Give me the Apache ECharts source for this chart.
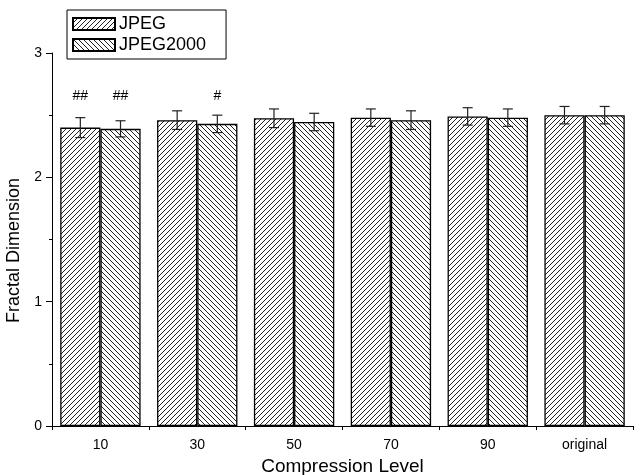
<!DOCTYPE html>
<html><head><meta charset="utf-8">
<script src="https://cdn.jsdelivr.net/npm/echarts@6/dist/echarts.min.js"></script>
<style>html,body{margin:0;padding:0;background:#fff}#c{width:641px;height:475px}</style>
</head><body><div id="c"></div>
<script>
const categories = ['10', '30', '50', '70', '90', 'original'];
const jpegValues = [2.40, 2.46, 2.475, 2.48, 2.49, 2.50];
const jpegErrors = [0.08, 0.075, 0.075, 0.07, 0.07, 0.07];
const jp2Values = [2.39, 2.43, 2.445, 2.46, 2.48, 2.50];
const jp2Errors = [0.065, 0.07, 0.07, 0.075, 0.07, 0.07];
const jpegMarks = ['##', '', '', '', '', ''];
const jp2Marks = ['##', '#', '', '', '', ''];
const yTicks = [0, 1, 2, 3];

function hatch(dir) {
  const s = 5;
  const c = document.createElement('canvas');
  c.width = s; c.height = s;
  const g = c.getContext('2d');
  g.fillStyle = '#fff'; g.fillRect(0, 0, s, s);
  g.strokeStyle = '#222'; g.lineWidth = 1.0;
  g.beginPath();
  if (dir > 0) {
    g.moveTo(-1, s + 1); g.lineTo(s + 1, -1);
    g.moveTo(-1, 1); g.lineTo(1, -1);
    g.moveTo(s - 1, s + 1); g.lineTo(s + 1, s - 1);
  } else {
    g.moveTo(-1, -1); g.lineTo(s + 1, s + 1);
    g.moveTo(s - 1, -1); g.lineTo(s + 1, 1);
    g.moveTo(-1, s - 1); g.lineTo(1, s + 1);
  }
  g.stroke();
  return c;
}
const patA = { image: hatch(1), repeat: 'repeat' };
const patB = { image: hatch(-1), repeat: 'repeat' };

const chart = echarts.init(document.getElementById('c'));
const font = 'Liberation Sans, Arial, sans-serif';

function errSeries(values, errs, marks, offset) {
  return {
    type: 'custom',
    xAxisIndex: 0,
    z: 10,
    data: values.map((v, i) => [i, v, errs[i]]),
    renderItem: function (params, api) {
      const i = api.value(0);
      const v = api.value(1);
      const e = api.value(2);
      const mark = marks[params.dataIndex];
      const size = api.size([1, 0]);
      const bw = size[0] * 0.83 / 2;
      const c = api.coord([i, v]);
      const x = c[0] + offset * bw / 2;
      const top = api.coord([i, v + e])[1];
      const bot = api.coord([i, v - e])[1];
      const cap = 5;
      const st = { stroke: '#222', lineWidth: 1.2 };
      const children = [
        { type: 'line', shape: { x1: x, y1: top, x2: x, y2: bot }, style: st },
        { type: 'line', shape: { x1: x - cap, y1: top, x2: x + cap, y2: top }, style: st },
        { type: 'line', shape: { x1: x - cap, y1: bot, x2: x + cap, y2: bot }, style: st }
      ];
      if (mark) {
        children.push({ type: 'text', style: { text: mark, x: x, y: api.coord([i, 2.6])[1], textAlign: 'center', textVerticalAlign: 'bottom', font: '14px ' + font, fill: '#000' } });
      }
      return { type: 'group', children: children };
    }
  };
}

chart.setOption({
  animation: false,
  backgroundColor: '#fff',
  grid: { left: 52, right: 8, top: 53, bottom: 49, outerBoundsMode: 'none', containLabel: false },
  legend: {
    left: 67, top: 10,
    orient: 'vertical',
    icon: 'rect',
    itemWidth: 42, itemHeight: 12, itemGap: 3,
    padding: [5, 20, 5, 5],
    borderColor: '#000', borderWidth: 1,
    textStyle: { fontFamily: font, fontSize: 18, color: '#000', padding: [0, 0, 0, -1] },
    data: ['JPEG', 'JPEG2000']
  },
  xAxis: [{
    type: 'category', data: categories,
    axisLine: { lineStyle: { color: '#000', width: 1 } },
    axisTick: { alignWithLabel: true, length: 6, lineStyle: { color: '#000' } },
    axisLabel: { fontFamily: font, fontSize: 14, color: '#000', margin: 12 },
    name: 'Compression Level', nameLocation: 'middle', nameGap: 30,
    nameTextStyle: { fontFamily: font, fontSize: 19, color: '#000' }
  }, {
    type: 'category', data: categories, position: 'bottom',
    axisLine: { show: false },
    axisTick: { show: true, length: 4, lineStyle: { color: '#000' } },
    axisLabel: { show: false }
  }],
  yAxis: {
    type: 'value', min: yTicks[0], max: yTicks[yTicks.length - 1], interval: 1,
    axisLine: { show: true, lineStyle: { color: '#000', width: 1 } },
    axisTick: { show: true, length: 6, lineStyle: { color: '#000' } },
    minorTick: { show: true, splitNumber: 2, length: 3, lineStyle: { color: '#000' } },
    splitLine: { show: false },
    axisLabel: { fontFamily: font, fontSize: 14, color: '#000', margin: 10 },
    name: 'Fractal Dimension', nameLocation: 'middle', nameGap: 28,
    nameTextStyle: { fontFamily: font, fontSize: 18, color: '#000', padding: [0, 22, 0, 0] }
  },
  series: [{
    name: 'JPEG', type: 'bar', data: jpegValues, barGap: '0%', barCategoryGap: '17%',
    itemStyle: { color: patA, borderColor: '#000', borderWidth: 1.3 }
  }, {
    name: 'JPEG2000', type: 'bar', data: jp2Values, barGap: '0%', barCategoryGap: '17%',
    itemStyle: { color: patB, borderColor: '#000', borderWidth: 1.3 }
  },
  errSeries(jpegValues, jpegErrors, jpegMarks, -1),
  errSeries(jp2Values, jp2Errors, jp2Marks, 1)
  ]
});
</script></body></html>
